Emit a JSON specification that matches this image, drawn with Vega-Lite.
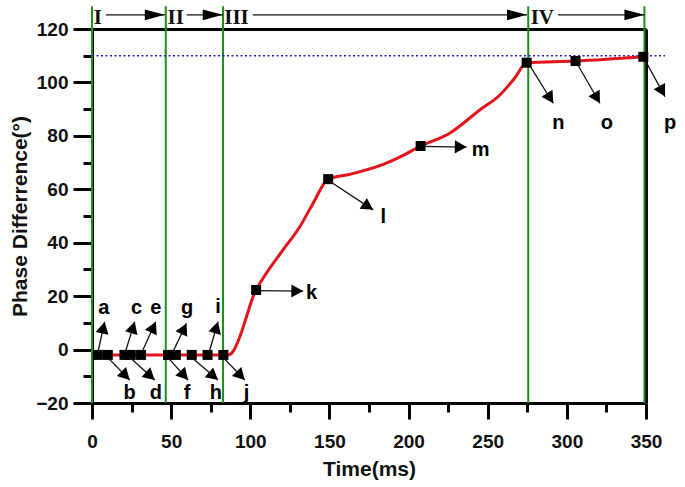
{
  "$schema": "https://vega.github.io/schema/vega-lite/v6.json",
  "width": 554,
  "height": 374,
  "autosize": "none",
  "padding": {"left": 92, "top": 29, "right": 39, "bottom": 84},
  "background": "white",
  "config": {"view": {"stroke": null}, "axis": {"grid": false}},
  "datasets": {
    "curve": [
      {"t": 0.7, "v": -2}, {"t": 3.7, "v": -2}, {"t": 10, "v": -2}, {"t": 21, "v": -2}, {"t": 24, "v": -2},
      {"t": 31.5, "v": -2}, {"t": 48, "v": -2}, {"t": 52, "v": -2}, {"t": 63, "v": -2}, {"t": 74, "v": -2},
      {"t": 83, "v": -2}, {"t": 85.8, "v": -2}, {"t": 89, "v": -0.8}, {"t": 93.4, "v": 4.8}, {"t": 97.6, "v": 12.3},
      {"t": 101.8, "v": 19.8}, {"t": 103.7, "v": 22.3}, {"t": 110.2, "v": 28.6}, {"t": 120.7, "v": 37.3},
      {"t": 131.3, "v": 46}, {"t": 139.7, "v": 54.8}, {"t": 149.2, "v": 63.8}, {"t": 162.9, "v": 65.6},
      {"t": 184, "v": 69.3}, {"t": 196, "v": 72.5}, {"t": 207.6, "v": 76.2}, {"t": 226, "v": 81}, {"t": 245, "v": 89.7},
      {"t": 257.7, "v": 95.3}, {"t": 267, "v": 101.6}, {"t": 274.6, "v": 107.4}, {"t": 305.5, "v": 108},
      {"t": 348.3, "v": 109.6}
    ],
    "markers": [
      {"id": "a", "t": 3.7, "v": -2}, {"id": "b", "t": 10, "v": -2}, {"id": "c", "t": 20.5, "v": -2},
      {"id": "d", "t": 24.5, "v": -2}, {"id": "e", "t": 31, "v": -2}, {"id": "f", "t": 48, "v": -2},
      {"id": "g", "t": 53, "v": -2}, {"id": "h", "t": 63, "v": -2}, {"id": "i", "t": 73, "v": -2},
      {"id": "j", "t": 83, "v": -2}, {"id": "k", "t": 103.7, "v": 22.3}, {"id": "l", "t": 149.2, "v": 63.8},
      {"id": "m", "t": 207.6, "v": 76.2}, {"id": "n", "t": 274.6, "v": 107.4}, {"id": "o", "t": 305.5, "v": 108},
      {"id": "p", "t": 348.3, "v": 109.6}
    ],
    "arrows": [
      {"label": "a", "t": 3.7, "v": -1, "t2": 8, "v2": 10.4, "lt": 7.4, "lv": 15.5},
      {"label": "b", "t": 10, "v": -3, "t2": 23.8, "v2": -11.4, "lt": 23.8, "lv": -16.3},
      {"label": "c", "t": 21, "v": -1, "t2": 27, "v2": 10.4, "lt": 28.1, "lv": 15.5},
      {"label": "d", "t": 24, "v": -3, "t2": 39.6, "v2": -11.4, "lt": 40.3, "lv": -16.3},
      {"label": "e", "t": 31.5, "v": -1, "t2": 40.3, "v2": 10.4, "lt": 40.3, "lv": 15.5},
      {"label": "f", "t": 48, "v": -3, "t2": 60.7, "v2": -11.4, "lt": 60, "lv": -16.3},
      {"label": "g", "t": 51, "v": -1, "t2": 59.7, "v2": 9.8, "lt": 60.1, "lv": 15.5},
      {"label": "h", "t": 63, "v": -3, "t2": 79.6, "v2": -11.4, "lt": 78.2, "lv": -16.3},
      {"label": "i", "t": 74, "v": -1, "t2": 79.6, "v2": 10.4, "lt": 79.6, "lv": 15.9},
      {"label": "j", "t": 83, "v": -3, "t2": 96.5, "v2": -11.4, "lt": 97.6, "lv": -16.3},
      {"label": "k", "t": 104, "v": 22.1, "t2": 133.4, "v2": 21.9, "lt": 138.7, "lv": 21.3},
      {"label": "l", "t": 150.4, "v": 62.9, "t2": 177.6, "v2": 52.3, "lt": 184, "lv": 49.5},
      {"label": "m", "t": 208, "v": 76.1, "t2": 236.7, "v2": 75.8, "lt": 245.5, "lv": 74.8},
      {"label": "n", "t": 275.6, "v": 107.2, "t2": 291.4, "v2": 92.2, "lt": 294.6, "lv": 85},
      {"label": "o", "t": 306.6, "v": 106.9, "t2": 320.9, "v2": 92.2, "lt": 325.2, "lv": 85},
      {"label": "p", "t": 349.4, "v": 108.4, "t2": 362, "v2": 94.7, "lt": 365.2, "lv": 85}
    ],
    "phases": [
      {"label": "I", "lt": 3.7, "t": 8.7, "t2": 46, "v": 125.3, "lv": 124.3},
      {"label": "II", "lt": 52.9, "t": 59.8, "t2": 82.6, "v": 125.3, "lv": 124.3},
      {"label": "III", "lt": 91.3, "t": 101.6, "t2": 274.8, "v": 125.3, "lv": 124.3},
      {"label": "IV", "lt": 284.5, "t": 294.4, "t2": 349, "v": 125.3, "lv": 124.3}
    ],
    "vlines": [{"t": 0, "v": -20, "v2": 128.5}, {"t": 46.6, "v": -20, "v2": 128.5}, {"t": 82.8, "v": -20, "v2": 128.5}, {"t": 275.6, "v": -20, "v2": 128.5}, {"t": 349, "v": -20, "v2": 128.5}],
    "ref": [{"t": 0, "t2": 362, "v": 110}]
  },
  "resolve": {"axis": {"x": "independent", "y": "independent"}},
  "layer": [
    {
      "data": {"name": "vlines"},
      "mark": {"type": "rule", "color": "#1e8c1e", "strokeWidth": 2},
      "encoding": {
        "x": {"field": "t", "type": "quantitative", "scale": {"domain": [0, 350], "nice": false, "zero": false}, "axis": null},
        "y": {"field": "v", "type": "quantitative", "scale": {"domain": [-20, 120], "nice": false, "zero": false}, "axis": null},
        "y2": {"field": "v2"}
      }
    },
    {
      "data": {"name": "ref"},
      "mark": {"type": "rule", "color": "#2020c8", "strokeWidth": 1.6, "strokeDash": [2, 2.5]},
      "encoding": {
        "x": {"field": "t", "type": "quantitative", "axis": {"orient": "top", "ticks": false, "labels": false, "title": null, "domainColor": "#000", "domainWidth": 3}},
        "x2": {"field": "t2"},
        "y": {"field": "v", "type": "quantitative", "axis": {"orient": "right", "ticks": false, "labels": false, "title": null, "domainColor": "#000", "domainWidth": 3}}
      }
    },
    {
      "data": {"name": "curve"},
      "mark": {"type": "line", "color": "#e3141b", "strokeWidth": 3, "interpolate": "monotone"},
      "encoding": {
        "x": {"field": "t", "type": "quantitative", "axis": {
          "orient": "bottom", "values": [0, 50, 100, 150, 200, 250, 300, 350], "tickSize": 16, "tickWidth": 3, "tickColor": "#000",
          "domainColor": "#000", "domainWidth": 3, "labelFont": "Liberation Sans", "labelFontWeight": "bold", "labelFontSize": 19,
          "labelColor": "#111", "labelPadding": 13, "labelFlush": false, "labelOverlap": false,
          "title": "Time(ms)", "titleFont": "Liberation Sans", "titleFontWeight": "bold", "titleFontSize": 21, "titleColor": "#111", "titlePadding": 7}},
        "y": {"field": "v", "type": "quantitative", "axis": {
          "orient": "left", "values": [-20, 0, 20, 40, 60, 80, 100, 120], "tickSize": 19, "tickWidth": 3, "tickColor": "#000",
          "domainColor": "#000", "domainWidth": 3, "labelFont": "Liberation Sans", "labelFontWeight": "bold", "labelFontSize": 19,
          "labelColor": "#111", "labelPadding": 5, "labelOverlap": false,
          "title": "Phase Differrence(°)", "titleFont": "Liberation Sans", "titleFontWeight": "bold", "titleFontSize": 21, "titleColor": "#111", "titlePadding": 5}}
      }
    },
    {
      "data": {"name": "markers"},
      "mark": {"type": "square", "color": "#000", "size": 100, "opacity": 1, "filled": true},
      "encoding": {
        "x": {"field": "t", "type": "quantitative", "axis": {"orient": "bottom", "values": [25, 75, 125, 175, 225, 275, 325], "tickSize": 9, "tickWidth": 3, "tickColor": "#000", "domain": false, "labels": false, "title": null}},
        "y": {"field": "v", "type": "quantitative", "axis": {"orient": "left", "values": [-10, 10, 30, 50, 70, 90, 110], "tickSize": 9, "tickWidth": 3, "tickColor": "#000", "domain": false, "labels": false, "title": null}}
      }
    },
    {
      "data": {"name": "arrows"},
      "mark": {"type": "rule", "color": "#111", "strokeWidth": 1.3},
      "encoding": {
        "x": {"field": "t", "type": "quantitative", "axis": null},
        "x2": {"field": "t2"},
        "y": {"field": "v", "type": "quantitative", "axis": null},
        "y2": {"field": "v2"}
      }
    },
    {
      "data": {"name": "arrows"},
      "transform": [{"calculate": "atan2(-(datum.v2 - datum.v) * 2.671, (datum.t2 - datum.t) * 1.582) * 180 / PI", "as": "ang"}],
      "mark": {"type": "point", "shape": "M0,0L-1,-0.55L-1,0.55Z", "filled": true, "color": "#000", "size": 560, "opacity": 1},
      "encoding": {
        "x": {"field": "t2", "type": "quantitative", "axis": null},
        "y": {"field": "v2", "type": "quantitative", "axis": null},
        "angle": {"field": "ang", "type": "quantitative", "scale": null}
      }
    },
    {
      "data": {"name": "arrows"},
      "mark": {"type": "text", "font": "Liberation Sans", "fontWeight": "bold", "fontSize": 20, "color": "#000", "align": "center", "baseline": "middle"},
      "encoding": {
        "x": {"field": "lt", "type": "quantitative", "axis": null},
        "y": {"field": "lv", "type": "quantitative", "axis": null},
        "text": {"field": "label"}
      }
    },
    {
      "data": {"name": "phases"},
      "mark": {"type": "rule", "color": "#111", "strokeWidth": 1.3},
      "encoding": {
        "x": {"field": "t", "type": "quantitative", "axis": null},
        "x2": {"field": "t2"},
        "y": {"field": "v", "type": "quantitative", "axis": null}
      }
    },
    {
      "data": {"name": "phases"},
      "mark": {"type": "point", "shape": "M0,0L-1,-0.27L-1,0.27Z", "filled": true, "color": "#000", "size": 1600, "opacity": 1},
      "encoding": {
        "x": {"field": "t2", "type": "quantitative", "axis": null},
        "y": {"field": "v", "type": "quantitative", "axis": null}
      }
    },
    {
      "data": {"name": "phases"},
      "mark": {"type": "text", "font": "Liberation Serif", "fontWeight": "bold", "fontSize": 21, "color": "#111", "align": "center", "baseline": "middle"},
      "encoding": {
        "x": {"field": "lt", "type": "quantitative", "axis": null},
        "y": {"field": "lv", "type": "quantitative", "axis": null},
        "text": {"field": "label"}
      }
    }
  ]
}
